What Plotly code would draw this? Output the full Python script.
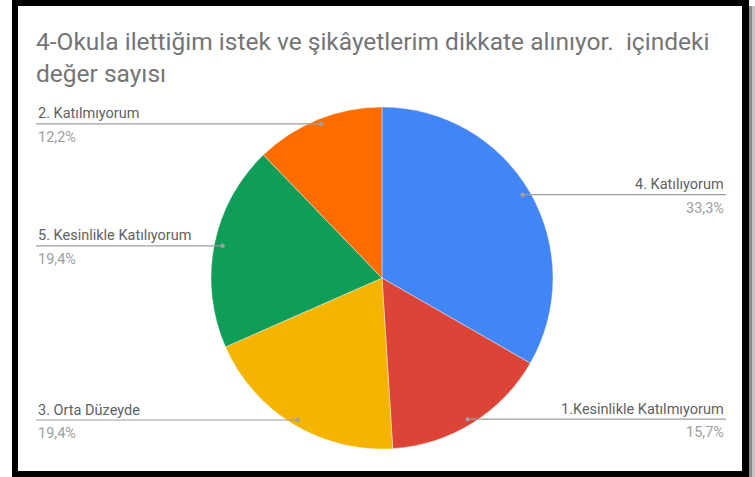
import math
import plotly.graph_objects as go

W, H = 755, 477

# ---- data ----
labels = ["4. Katılıyorum", "1.Kesinlikle Katılmıyorum", "3. Orta Düzeyde",
          "5. Kesinlikle Katılıyorum", "2. Katılmıyorum"]
values = [33.3, 15.7, 19.4, 19.4, 12.2]
pct_labels = ["33,3%", "15,7%", "19,4%", "19,4%", "12,2%"]
colors = ["#4285F4", "#DB4437", "#F4B400", "#0F9D58", "#FF6D01"]
title_text = "4-Okula ilettiğim istek ve şikâyetlerim dikkate alınıyor.  içindeki<br>değer sayısı"

# ---- layout geometry (pixels) ----
CX, CY, R = 382, 278, 171
DOT_RX, DOT_RY = 0.95 * 171, 0.95 * 175
LEFT_X, RIGHT_X = 36, 726


def px(x):
    return x / W


def py(y):
    return 1 - y / H


fig = go.Figure()
fig.add_trace(go.Pie(
    labels=labels, values=values, sort=False, direction="clockwise", rotation=0,
    marker=dict(colors=colors, line=dict(color="white", width=0.4)),
    textinfo="none", hoverinfo="label+percent", showlegend=False,
    domain=dict(x=[px(CX - R), px(CX + R)], y=[py(CY + R), py(CY - R)]),
))

shapes = []
annotations = []
total = sum(values)
cum = 0.0
for lab, v, pl in zip(labels, values, pct_labels):
    mid = (cum + v / 2) / total * 2 * math.pi
    cum += v
    dx = CX + DOT_RX * math.sin(mid)
    dy = CY - DOT_RY * math.cos(mid)
    right = math.sin(mid) > 0
    end_x = RIGHT_X if right else LEFT_X
    shapes.append(dict(type="line", xref="paper", yref="paper",
                       x0=px(dx), x1=px(end_x), y0=py(dy), y1=py(dy),
                       line=dict(color="#9E9E9E", width=1.2)))
    shapes.append(dict(type="circle", xref="paper", yref="paper",
                       x0=px(dx - 2.2), x1=px(dx + 2.2), y0=py(dy + 2.2), y1=py(dy - 2.2),
                       fillcolor="#9E9E9E", line=dict(width=0)))
    anchor = "right" if right else "left"
    annotations.append(dict(x=px(end_x), y=py(dy + 0.5), xref="paper", yref="paper",
                            text=lab, showarrow=False, xanchor=anchor, yanchor="bottom",
                            font=dict(family="Roboto", size=14.5, color="#616161")))
    annotations.append(dict(x=px(end_x), y=py(dy + 3), xref="paper", yref="paper",
                            text=pl, showarrow=False, xanchor=anchor, yanchor="top",
                            font=dict(family="Roboto", size=14.5, color="#9E9E9E")))

annotations.append(dict(x=px(34), y=py(25), xref="paper", yref="paper",
                        text=title_text, showarrow=False, xanchor="left", yanchor="top",
                        align="left",
                        font=dict(family="Roboto", size=24.5, color="#757575")))

# frame
def rect(x0, y0, x1, y1, color):
    return dict(type="rect", xref="paper", yref="paper", layer="above",
                x0=px(x0), x1=px(x1), y0=py(y1), y1=py(y0),
                fillcolor=color, line=dict(width=0))

shapes += [
    rect(12, 0, 18, 477, "black"),
    rect(12, 0, 749, 6, "black"),
    rect(742, 0, 749, 477, "black"),
    rect(12, 471, 749, 477, "black"),
    rect(749, 6, 752, 477, "#8a8a8a"),
    rect(752, 6, 755, 477, "#c4c4c4"),
]

fig.update_layout(
    width=W, height=H, margin=dict(l=0, r=0, t=0, b=0),
    paper_bgcolor="white", plot_bgcolor="white",
    shapes=shapes, annotations=annotations,
)

fig.write_html("out.html", config={"displayModeBar": False},
               post_script="document.body.style.margin='0';document.body.style.overflow='hidden';")
